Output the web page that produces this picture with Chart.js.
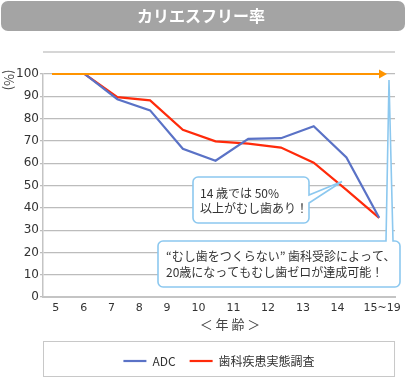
<!DOCTYPE html>
<html><head><meta charset="utf-8">
<script src="https://cdn.jsdelivr.net/npm/chart.js@4/dist/chart.umd.min.js"></script>
<style>html,body{margin:0;padding:0;background:#fff}#wrap{width:406px;height:380px;position:relative}</style>
</head><body><div id="wrap"><canvas id="c" width="406" height="380"></canvas></div>
<script>
// ---- data ----
const chartTitle = 'カリエスフリー率';
const ageCategories = ['6', '7', '8', '9', '10', '11', '12', '13', '14', '15~19'];
const adcValues = [100, 88.7, 83.7, 66.5, 61.1, 70.9, 71.2, 76.6, 62.6, 35.5];
const surveyValues = [100, 89.6, 88.2, 75, 69.8, 68.8, 67, 60.2, 48, 35.5];
const seriesNames = ['ADC', '歯科疾患実態調査'];
const xTickLabels = ['5', '6', '7', '8', '9', '10', '11', '12', '13', '14', '15~19'];
const xAxisTitle = '＜ 年 齢 ＞';
const yAxisTitle = '(%)';
const yTickValues = [0, 10, 20, 30, 40, 50, 60, 70, 80, 90, 100];
const note1 = ['14 歳では 50%', '以上がむし歯あり！'];
const note2 = ['“むし歯をつくらない” 歯科受診によって、', '20歳になってもむし歯ゼロが達成可能！'];

// ---- layout (label positions on the index axis, as drawn in the original) ----
const xTickAt = [-0.88, -0.03, 0.82, 1.67, 2.52, 3.48, 4.55, 5.6, 6.67, 7.73, 9.09];

const BLUE = '#5a72c6', RED = '#ff2a0a', ORANGE = '#ff9400', CALL = '#8cc8ef', GRID = '#bcbcbc';
const JP = '"Noto Sans CJK JP", "Noto Sans", sans-serif';

function roundBox(ctx, l, t, r, b, rad, tail) {
  ctx.beginPath();
  ctx.moveTo(l + rad, t);
  if (tail && tail.side === 'top') {
    ctx.lineTo(tail.a, t); ctx.lineTo(tail.tx, tail.ty); ctx.lineTo(tail.b, t);
  }
  ctx.lineTo(r - rad, t);
  ctx.arcTo(r, t, r, t + rad, rad);
  if (tail && tail.side === 'right') {
    ctx.lineTo(r, tail.a); ctx.lineTo(tail.tx, tail.ty); ctx.lineTo(r, tail.b);
  }
  ctx.lineTo(r, b - rad);
  ctx.arcTo(r, b, r - rad, b, rad);
  ctx.lineTo(l + rad, b);
  ctx.arcTo(l, b, l, b - rad, rad);
  ctx.lineTo(l, t + rad);
  ctx.arcTo(l, t, l + rad, t, rad);
  ctx.closePath();
  ctx.fillStyle = '#fff';
  ctx.fill();
  ctx.lineWidth = 1.6;
  ctx.strokeStyle = CALL;
  ctx.stroke();
}

const decor = {
  id: 'decor',
  afterLayout(chart) {
    const lg = chart.legend, ca = chart.chartArea;
    if (lg) { lg.left = ca.left; lg.right = ca.right; lg.width = ca.right - ca.left; }
  },
  beforeDraw(chart) {
    const ctx = chart.ctx, ca = chart.chartArea;
    ctx.save();
    ctx.fillStyle = '#fff';
    ctx.fillRect(0, 0, chart.width, chart.height);
    // title bar
    ctx.fillStyle = '#a4a4a4';
    ctx.beginPath();
    ctx.roundRect(1, 1, 404, 30, 7);
    ctx.fill();
    ctx.fillStyle = '#fff';
    ctx.font = 'bold 16px ' + JP;
    ctx.textAlign = 'center';
    ctx.textBaseline = 'middle';
    ctx.fillText(chartTitle, 201, 16);
    // top separator
    ctx.strokeStyle = '#c8c8c8';
    ctx.lineWidth = 1.5;
    ctx.beginPath();
    ctx.moveTo(ca.left, 52); ctx.lineTo(ca.right, 52);
    ctx.stroke();
    // legend frame
    const lg = chart.legend;
    ctx.lineWidth = 1;
    ctx.strokeStyle = '#c8c8c8';
    ctx.strokeRect(ca.left + 0.5, lg.top + 0.5, ca.right - ca.left - 1, lg.bottom - lg.top - 1);
    ctx.restore();
  },
  afterDatasetsDraw(chart) {
    const ctx = chart.ctx, ca = chart.chartArea, ys = chart.scales.y;
    ctx.save();
    // 100% target arrow
    const y100 = ys.getPixelForValue(100);
    ctx.strokeStyle = ORANGE; ctx.fillStyle = ORANGE; ctx.lineWidth = 2.2;
    ctx.beginPath();
    ctx.moveTo(ca.left + 9, y100); ctx.lineTo(ca.right - 13, y100);
    ctx.stroke();
    ctx.beginPath();
    ctx.moveTo(ca.right - 8, y100); ctx.lineTo(ca.right - 16, y100 - 4.5); ctx.lineTo(ca.right - 16, y100 + 4.5);
    ctx.closePath(); ctx.fill();

    // callout 1
    const y50 = ys.getPixelForValue(50);
    roundBox(ctx, 193, 177, 309, 223, 5, { side: 'right', a: 195, b: 203, tx: 342, ty: y50 - 4 });
    ctx.fillStyle = '#333';
    ctx.font = '12px ' + JP;
    ctx.textAlign = 'left';
    ctx.textBaseline = 'middle';
    ctx.fillText(note1[0], 200, 193);
    ctx.fillText(note1[1], 200, 208);

    // callout 2
    roundBox(ctx, 158, 241, 400, 287, 5, { side: 'top', a: 386, b: 393, tx: 389, ty: y100 + 6 });
    ctx.fillStyle = '#333';
    ctx.fillText(note2[0], 166, 256);
    ctx.fillText(note2[1], 166, 272);

    // axis titles
    ctx.font = '13px ' + JP;
    ctx.textAlign = 'center';
    ctx.fillStyle = '#444';
    ctx.fillText(xAxisTitle, 230, 324);
    ctx.translate(9, 80);
    ctx.rotate(Math.PI / 2);
    ctx.font = '13px ' + JP;
    ctx.fillText(yAxisTitle, 0, 0);
    ctx.restore();
  }
};

new Chart(document.getElementById('c'), {
  type: 'line',
  data: {
    datasets: [
      { label: seriesNames[0], data: adcValues.map((v, i) => ({ x: i, y: v })), borderColor: BLUE, backgroundColor: BLUE, borderWidth: 2.2, pointRadius: 0, tension: 0 },
      { label: seriesNames[1], data: surveyValues.map((v, i) => ({ x: i, y: v })), borderColor: RED, backgroundColor: RED, borderWidth: 2.2, pointRadius: 0, tension: 0 }
    ]
  },
  options: {
    responsive: false,
    animation: false,
    devicePixelRatio: 1,
    layout: { padding: { top: 74, left: 0, right: 8, bottom: 3 } },
    plugins: {
      legend: {
        position: 'bottom',
        labels: { usePointStyle: true, pointStyle: 'line', pointStyleWidth: 23, color: '#333', padding: 14, font: { size: 12, family: JP } }
      },
      title: { display: false },
      tooltip: { enabled: false }
    },
    scales: {
      x: {
        type: 'linear',
        min: -1.273, max: 9.485,
        afterBuildTicks: s => { s.ticks = xTickAt.map(v => ({ value: v })); },
        afterFit: s => { s.height = 44; },
        ticks: { autoSkip: false, maxRotation: 0, padding: 5, color: '#333', font: { size: 11, family: '"DejaVu Sans", sans-serif' }, callback: (v, i) => xTickLabels[i] },
        grid: { display: false, drawTicks: false },
        border: { display: true, color: '#c4c4c4', width: 2 }
      },
      y: {
        min: 0, max: 100,
        afterBuildTicks: s => { s.ticks = yTickValues.map(v => ({ value: v })); },
        afterFit: s => { s.width = 43; },
        ticks: { padding: 1, color: '#333', font: { size: 12, family: '"DejaVu Sans", sans-serif' } },
        grid: { color: GRID, lineWidth: 1.2, tickLength: 3 },
        border: { color: '#c4c4c4', width: 1.5 }
      }
    }
  },
  plugins: [decor]
});
</script>
</body></html>
